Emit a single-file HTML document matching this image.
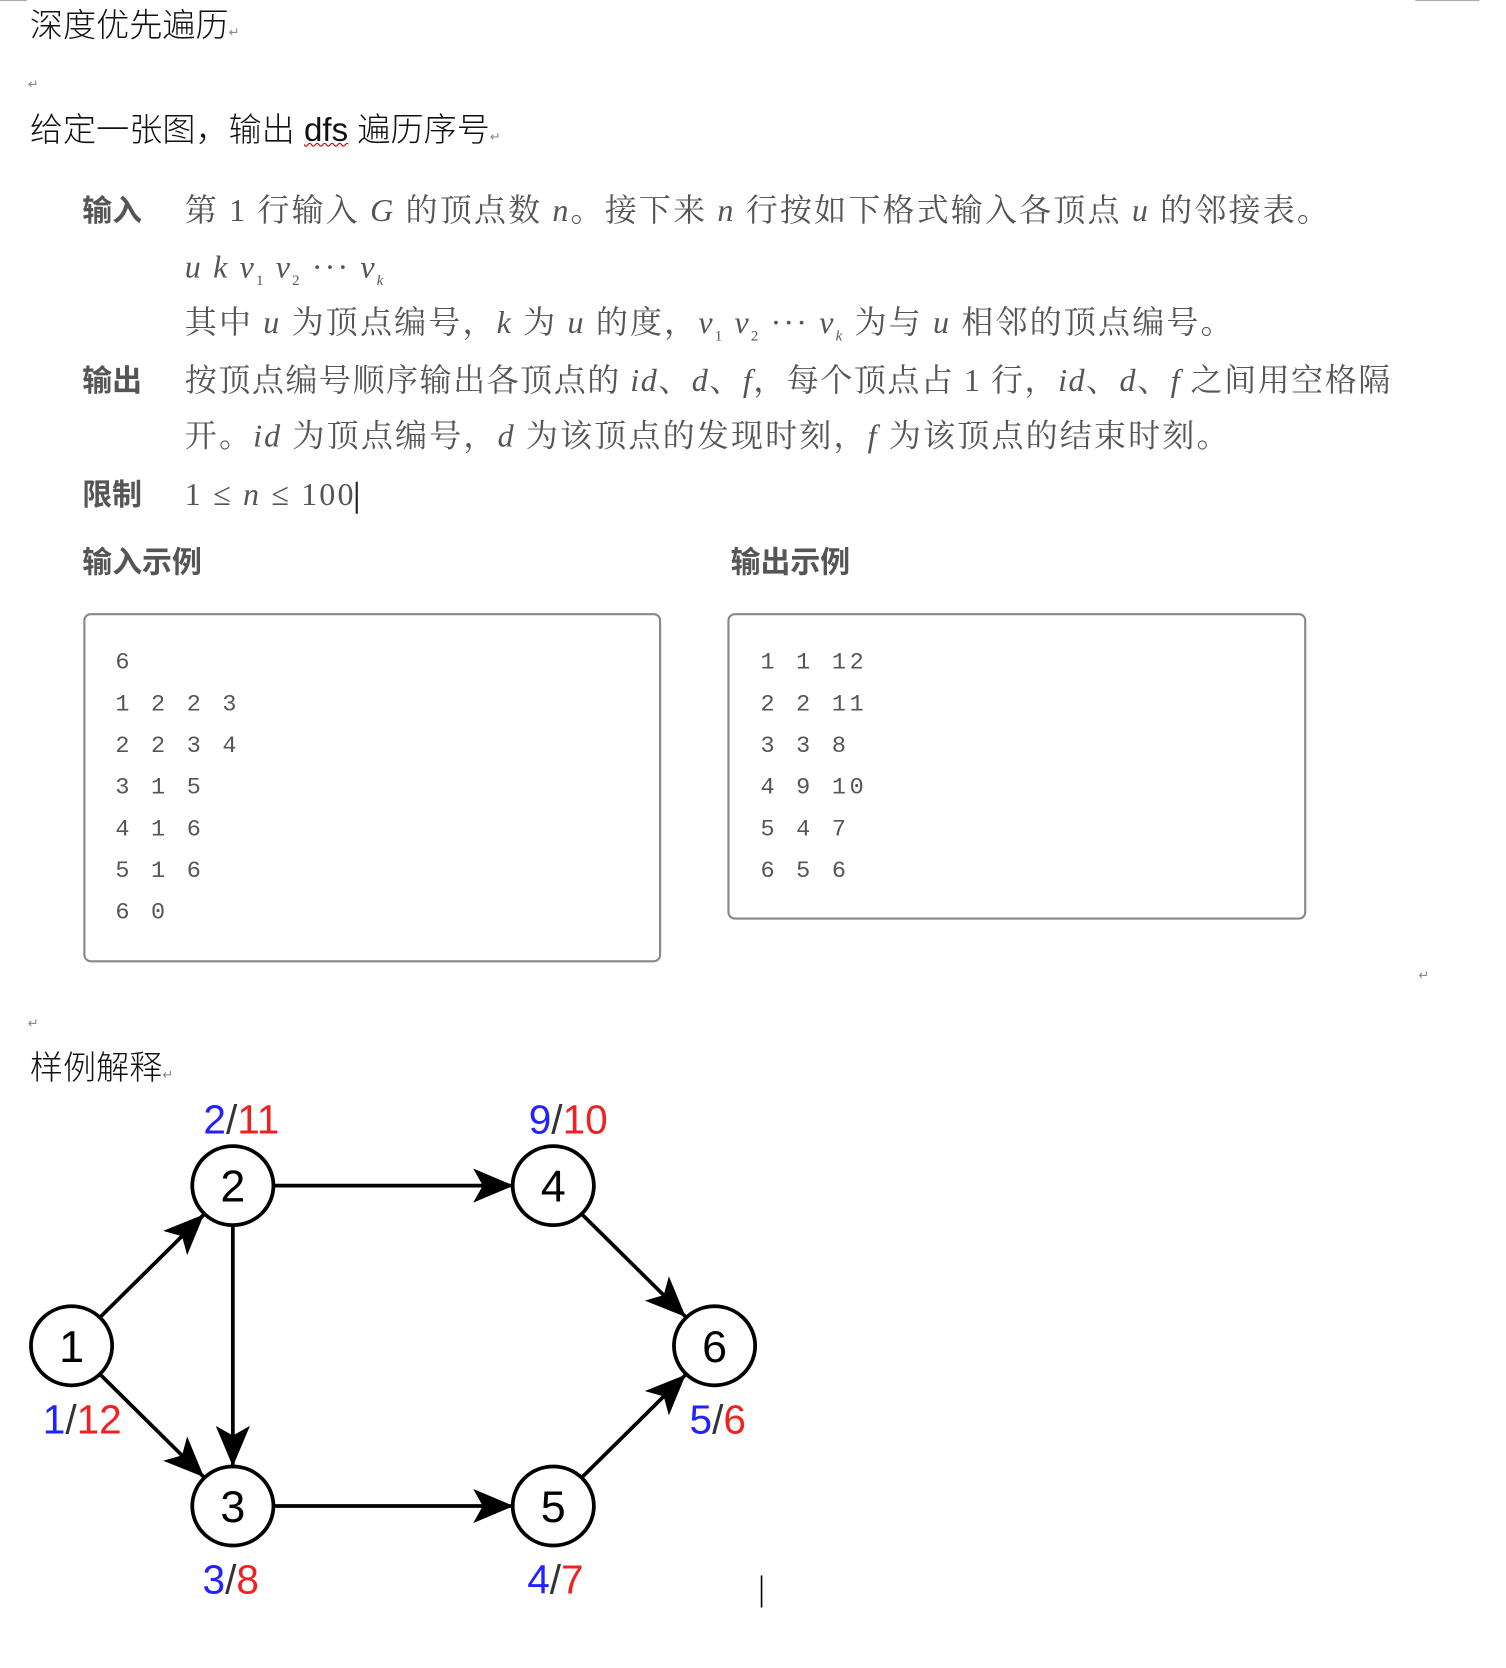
<!DOCTYPE html>
<html><head><meta charset="utf-8"><style>
html,body{margin:0;padding:0;background:#fff;width:1506px;height:1668px;overflow:hidden}
#w{position:absolute;left:0;top:0;width:1410px;height:1562px;transform:scale(1.0681);transform-origin:0 0}
.a{position:absolute;white-space:nowrap;line-height:1}
.h{font-family:"Liberation Sans","Noto Sans CJK SC",sans-serif;font-size:31px;color:#111;font-weight:300}
.p{font-family:"Liberation Serif","Noto Serif CJK SC",serif;font-size:30px;color:#555;letter-spacing:2px}
.p i{font-family:"Liberation Serif",serif}
.l{font-family:"Liberation Sans","Noto Sans CJK SC",sans-serif;font-size:28px;color:#555;font-weight:bold}
.box{position:absolute;border:2px solid #888;border-radius:7px}
.m{position:absolute;font-family:"Liberation Mono",monospace;font-size:22px;color:#555;letter-spacing:3.5px;line-height:39px}
.r{font-size:12px;color:#888}
</style></head><body><div id="w">
<div style="position:absolute;left:0;top:0;width:25px;height:1px;background:#aaa"></div>
<div style="position:absolute;left:1325px;top:0;width:60px;height:1px;background:#aaa"></div>
<div class="a h" style="left:28px;top:8px">深度优先遍历<span class="r">↵</span></div>
<div class="a r" style="left:26px;top:73px">↵</div>
<div class="a h" style="left:28px;top:106px">给定一张图，输出 <span style="text-decoration:underline wavy #c00;text-decoration-thickness:1px">dfs</span> 遍历序号<span class="r">↵</span></div>

<div class="a l" style="left:77px;top:184px">输入</div>
<div class="a p" style="left:173px;top:183px">第 1 行输入 <i>G</i> 的顶点数 <i>n</i>。接下来 <i>n</i> 行按如下格式输入各顶点 <i>u</i> 的邻接表。</div>
<div class="a p" style="left:173px;top:236px"><i>u k v</i><sub style="font-size:14px">1</sub> <i>v</i><sub style="font-size:14px">2</sub> ··· <i>v<sub style="font-size:14px">k</sub></i></div>
<div class="a p" style="left:173px;top:288px">其中 <i>u</i> 为顶点编号，<i>k</i> 为 <i>u</i> 的度，<i>v</i><sub style="font-size:14px">1</sub> <i>v</i><sub style="font-size:14px">2</sub> ··· <i>v<sub style="font-size:14px">k</sub></i> 为与 <i>u</i> 相邻的顶点编号。</div>
<div class="a l" style="left:77px;top:343px">输出</div>
<div class="a p" style="left:173px;top:342px;letter-spacing:1.4px">按顶点编号顺序输出各顶点的 <i>id</i>、<i>d</i>、<i>f</i>，每个顶点占 1 行，<i>id</i>、<i>d</i>、<i>f</i> 之间用空格隔</div>
<div class="a p" style="left:173px;top:394px">开。<i>id</i> 为顶点编号，<i>d</i> 为该顶点的发现时刻，<i>f</i> 为该顶点的结束时刻。</div>
<div class="a l" style="left:77px;top:450px">限制</div>
<div class="a p" style="left:173px;top:449px">1 ≤ <i>n</i> ≤ 100<span style="display:inline-block;width:2px;height:30px;background:#222;vertical-align:middle"></span></div>
<div class="a l" style="left:77px;top:513px">输入示例</div>
<div class="a l" style="left:684px;top:513px">输出示例</div>

<div class="box" style="left:78px;top:574px;width:537px;height:323px"></div>
<div class="m" style="left:108px;top:601px">6<br>1 2 2 3<br>2 2 3 4<br>3 1 5<br>4 1 6<br>5 1 6<br>6 0</div>
<div class="box" style="left:681px;top:574px;width:538px;height:283px"></div>
<div class="m" style="left:712px;top:601px">1 1 12<br>2 2 11<br>3 3 8<br>4 9 10<br>5 4 7<br>6 5 6</div>

<div class="a r" style="left:1328px;top:907px">↵</div>
<div class="a r" style="left:26px;top:952px">↵</div>
<div class="a h" style="left:28px;top:984px">样例解释<span class="r">↵</span></div>

<svg style="position:absolute;left:0;top:-5px" width="1410" height="1562">
<defs><marker id="ar" markerWidth="40" markerHeight="36" refX="38" refY="16" orient="auto" markerUnits="userSpaceOnUse">
<path d="M0,0 L38,16 L0,32 L9,16 Z" fill="#000"/></marker></defs>
<g stroke="#000" stroke-width="3.5" fill="none">
<line x1="94" y1="1238" x2="191" y2="1142" marker-end="url(#ar)"/>
<line x1="94" y1="1292" x2="191" y2="1388" marker-end="url(#ar)"/>
<line x1="218" y1="1152" x2="218" y2="1378" marker-end="url(#ar)"/>
<line x1="256" y1="1115" x2="481" y2="1115" marker-end="url(#ar)"/>
<line x1="256" y1="1415" x2="481" y2="1415" marker-end="url(#ar)"/>
<line x1="545" y1="1142" x2="642" y2="1238" marker-end="url(#ar)"/>
<line x1="545" y1="1388" x2="642" y2="1292" marker-end="url(#ar)"/>
</g>
<g stroke="#000" stroke-width="3.5" fill="#fff">
<ellipse cx="67" cy="1265" rx="38" ry="37"/><ellipse cx="218" cy="1115" rx="38" ry="37"/>
<ellipse cx="218" cy="1415" rx="38" ry="37"/><ellipse cx="518" cy="1115" rx="38" ry="37"/>
<ellipse cx="518" cy="1415" rx="38" ry="37"/><ellipse cx="669" cy="1265" rx="38" ry="37"/>
</g>
<g font-family="Liberation Sans,sans-serif" font-size="42" text-anchor="middle" fill="#000">
<text x="67" y="1280">1</text><text x="218" y="1130">2</text><text x="218" y="1430">3</text>
<text x="518" y="1130">4</text><text x="518" y="1430">5</text><text x="669" y="1280">6</text>
</g>
<g font-family="Liberation Sans,sans-serif" font-size="38" text-anchor="middle">
<text x="226" y="1066"><tspan fill="#22f">2</tspan><tspan fill="#333">/</tspan><tspan fill="#e22">11</tspan></text>
<text x="532" y="1066"><tspan fill="#22f">9</tspan><tspan fill="#333">/</tspan><tspan fill="#e22">10</tspan></text>
<text x="77" y="1347"><tspan fill="#22f">1</tspan><tspan fill="#333">/</tspan><tspan fill="#e22">12</tspan></text>
<text x="672" y="1347"><tspan fill="#22f">5</tspan><tspan fill="#333">/</tspan><tspan fill="#e22">6</tspan></text>
<text x="216" y="1497"><tspan fill="#22f">3</tspan><tspan fill="#333">/</tspan><tspan fill="#e22">8</tspan></text>
<text x="520" y="1497"><tspan fill="#22f">4</tspan><tspan fill="#333">/</tspan><tspan fill="#e22">7</tspan></text>
</g>
<line x1="713" y1="1480" x2="713" y2="1510" stroke="#000" stroke-width="1.5"/>
</svg>
</div></body></html>
